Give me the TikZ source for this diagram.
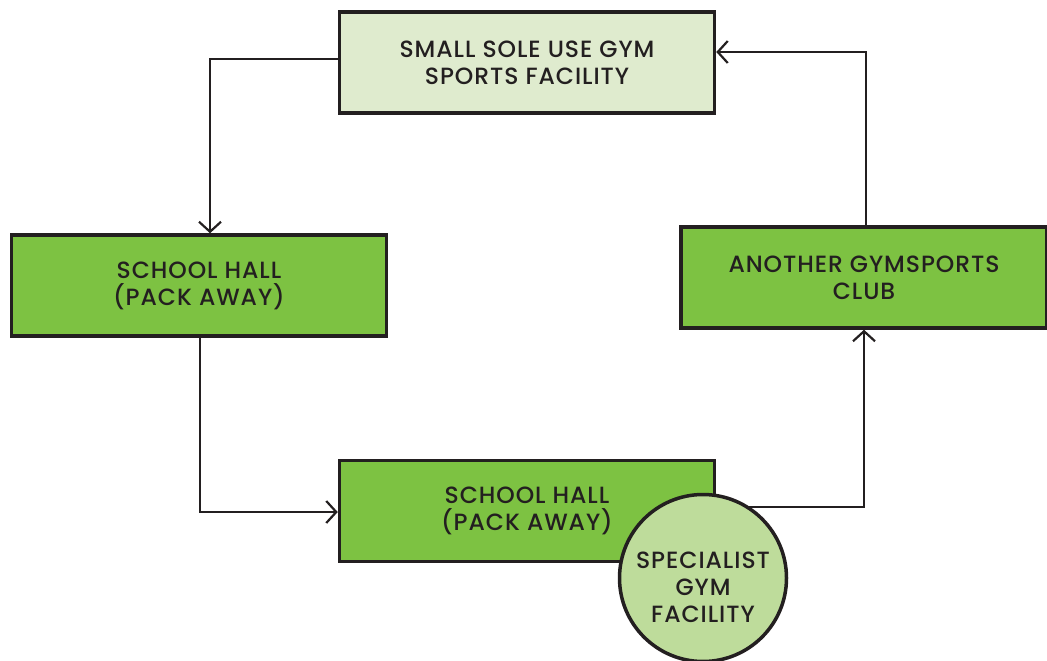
\documentclass[tikz,border=0pt]{standalone}
\usepackage{fontspec}
\IfFontExistsTF{Poppins Medium}{\setmainfont{Poppins Medium}[LetterSpace=4]}{\setmainfont{Poppins}[LetterSpace=4]}
\usetikzlibrary{arrows.meta}
\definecolor{ink}{HTML}{231F20}
\definecolor{lightfill}{HTML}{DFEBCE}
\definecolor{greenfill}{HTML}{7DC242}
\definecolor{circfill}{HTML}{BEDC9B}
\begin{document}
\begin{tikzpicture}[x=1pt,y=-1pt,
  box/.style={draw=ink,line width=3.5pt,minimum width=#1,minimum height=101pt,inner sep=0pt,align=center,font=\fontsize{23.5}{27}\selectfont,text=ink},
  conn/.style={draw=ink,line width=2.2pt,-{Straight Barb[length=10pt,width=22pt,line width=2.2pt]}}]
\useasboundingbox (0,0) rectangle (1047,661);
\node[box=375pt,fill=lightfill] (top) at (527,62.5) {SMALL SOLE USE GYM\\SPORTS FACILITY};
\node[box=375pt,fill=greenfill] (left) at (199,285.5) {SCHOOL HALL\\(PACK AWAY)};
\node[box=366pt,fill=greenfill] (right) at (864,277.5) {ANOTHER GYMSPORTS\\CLUB};
\node[box=375pt,fill=greenfill] (bottom) at (527,511) {SCHOOL HALL\\(PACK AWAY)};
\coordinate (cc) at (703,578);
\coordinate (tl) at (210,59);
\coordinate (lb) at (200,512);
\coordinate (br) at (864,507);
\coordinate (rt) at (866,52);
\draw[conn] (top.west |- tl) -- (tl) -- (tl |- left.north);
\draw[conn] (left.south -| lb) -- (lb) -- (lb -| bottom.west);
\draw[conn] (cc |- br) -- (br) -- (br |- right.south);
\draw[conn] (right.north -| rt) -- (rt) -- (rt -| top.east);
\node[circle,draw=ink,line width=3.5pt,fill=circfill,minimum size=167pt,inner sep=0pt] (circ) at (cc) {};
\node[align=center,font=\fontsize{23.5}{27}\selectfont,text=ink] (circtext) at (703,587) {SPECIALIST\\GYM\\FACILITY};
\end{tikzpicture}
\end{document}
